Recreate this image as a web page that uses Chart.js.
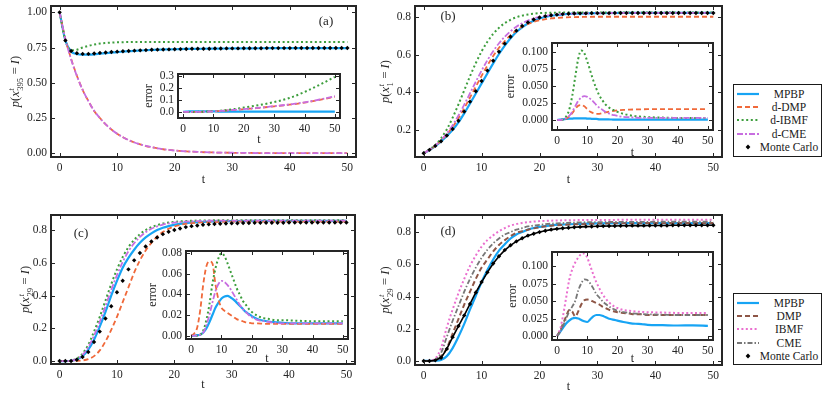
<!DOCTYPE html>
<html>
<head>
<meta charset="utf-8">
<script src="https://cdn.jsdelivr.net/npm/chart.js@4.4.0/dist/chart.umd.min.js"></script>
<style>
  body { margin: 0; width: 830px; height: 399px; overflow: hidden; background: #fff; position: relative; }
  canvas { position: absolute; }
  .leg { position: absolute; box-sizing: border-box; border: 1.5px solid #1a1a1a; background: #fff;
         padding: 2px 2px 0 3px; font: 11.5px 'Liberation Serif', serif; color: #1a1a1a; }
  .leg .row { height: 13.4px; display: flex; align-items: center; }
  .leg .row span { flex: 1; text-align: center; white-space: nowrap; }
</style>
</head>
<body>
<script>
// ---- data ----
// curve time grid and Monte Carlo time grid
const T = [0,1,2,3,4,5,6,7,8,9,10,11,12,13,14,15,16,17,18,19,20,22,24,26,28,30,35,40,45,50];
const T_MC = Array.from({length: 51}, (_, i) => i);
const X_TICKS = [0, 10, 20, 30, 40, 50];

// (a)
const MPBP_A = [1.0,0.80,0.722,0.704,0.700,0.700,0.702,0.706,0.710,0.714,0.718, 0.721,0.724,0.727,0.729,0.731,0.733,0.735,0.736,0.737,0.738, 0.740,0.741,0.742,0.743,0.744,0.745,0.746,0.746,0.746];
const DMP_A = [1.0,0.81,0.67,0.55,0.45,0.37,0.30,0.25,0.205,0.168,0.138, 0.113,0.093,0.076,0.063,0.051,0.042,0.035,0.028,0.023,0.019, 0.013,0.009,0.006,0.004,0.003,0.001,0.0005,0.0002,0.0001];
const IBMF_A = [1.0,0.80,0.73,0.735,0.75,0.762,0.771,0.778,0.782,0.785,0.787, 0.788,0.789,0.79,0.79,0.79,0.79,0.79,0.79,0.79,0.79, 0.79,0.79,0.79,0.79,0.79,0.79,0.79,0.79,0.79];
const CME_A = [1.0,0.81,0.665,0.548,0.449,0.369,0.301,0.249,0.204,0.168,0.138, 0.113,0.093,0.076,0.063,0.052,0.043,0.035,0.029,0.024,0.019, 0.013,0.009,0.006,0.004,0.003,0.001,0.0005,0.0002,0.0001];
const MC_A = [1.0,0.80,0.726,0.710,0.705,0.705,0.708,0.712,0.715,0.718, 0.721,0.724,0.726,0.728,0.730,0.732,0.734,0.735,0.736,0.737, 0.738,0.739,0.740,0.741,0.741,0.742,0.742,0.743,0.743,0.744, 0.744,0.744,0.745,0.745,0.745,0.745,0.746,0.746,0.746,0.746, 0.746,0.747,0.747,0.747,0.747,0.747,0.747,0.747,0.747,0.747, 0.747];
const ERR_MPBP_A = [0,0.002,0.004,0.005,0.005,0.005,0.005,0.005,0.004,0.004,0.004, 0.004,0.003,0.003,0.003,0.003,0.003,0.003,0.003,0.003,0.003, 0.003,0.003,0.003,0.003,0.003,0.003,0.003,0.003,0.003];
const ERR_DMP_A = [0,0,0,0,0,0.001,0.001,0.002,0.003,0.004,0.005, 0.006,0.008,0.009,0.011,0.013,0.015,0.017,0.019,0.021,0.023, 0.027,0.031,0.036,0.041,0.046,0.060,0.077,0.100,0.126];
const ERR_IBMF_A = [0,0,0,0,0,0.001,0.002,0.003,0.004,0.005,0.006, 0.008,0.010,0.012,0.015,0.018,0.021,0.024,0.028,0.032,0.036, 0.044,0.052,0.061,0.071,0.082,0.115,0.165,0.225,0.29];
const ERR_CME_A = [0,0,0,0,0,0.001,0.001,0.002,0.003,0.004,0.005, 0.007,0.008,0.010,0.012,0.014,0.016,0.018,0.020,0.022,0.024, 0.028,0.032,0.037,0.042,0.048,0.062,0.080,0.103,0.130];

// (b)
const MPBP_B = [0.076,0.093,0.114,0.139,0.168,0.200,0.240,0.288,0.340,0.393,0.447, 0.500,0.553,0.603,0.648,0.687,0.720,0.745,0.765,0.780,0.792, 0.806,0.813,0.817,0.819,0.820,0.821,0.821,0.821,0.821];
const DMP_B = [0.076,0.094,0.116,0.143,0.176,0.216,0.262,0.315,0.372,0.430,0.487, 0.542,0.592,0.636,0.672,0.703,0.728,0.748,0.763,0.774,0.782, 0.792,0.797,0.799,0.800,0.801,0.801,0.801,0.801,0.801];
const IBMF_B = [0.076,0.095,0.120,0.155,0.203,0.265,0.335,0.410,0.485,0.555,0.617, 0.668,0.710,0.742,0.767,0.785,0.798,0.807,0.813,0.817,0.820, 0.822,0.823,0.823,0.823,0.823,0.823,0.823,0.823,0.823];
const CME_B = [0.076,0.094,0.117,0.146,0.182,0.225,0.277,0.334,0.395,0.456,0.515, 0.570,0.618,0.660,0.695,0.724,0.748,0.766,0.781,0.792,0.800, 0.810,0.815,0.818,0.819,0.820,0.821,0.821,0.821,0.821];
const MC_B = [0.076,0.094,0.115,0.140,0.170,0.205,0.248,0.297,0.350,0.405, 0.460,0.515,0.567,0.615,0.658,0.695,0.727,0.752,0.771,0.786, 0.797,0.804,0.809,0.812,0.815,0.817,0.818,0.819,0.819,0.820, 0.820,0.820,0.820,0.821,0.821,0.821,0.821,0.821,0.821,0.821, 0.821,0.821,0.821,0.821,0.821,0.821,0.821,0.821,0.821,0.821, 0.821];
const ERR_MPBP_B = [0,0.0005,0.001,0.0015,0.002,0.002,0.0025,0.0025,0.0025,0.0025,0.002, 0.002,0.0015,0.0015,0.001,0.001,0.001,0.0008,0.0007,0.0006,0.0005, 0.0005,0.0004,0.0004,0.0004,0.0004,0.0004,0.0004,0.0004,0.0004];
const ERR_DMP_B = [0,0,0.001,0.002,0.005,0.010,0.016,0.021,0.022,0.020,0.016, 0.012,0.010,0.009,0.009,0.010,0.011,0.012,0.013,0.0135,0.014, 0.0148,0.0152,0.0155,0.0157,0.0158,0.016,0.016,0.016,0.016];
const ERR_IBMF_B = [0,0,0.001,0.005,0.015,0.035,0.063,0.090,0.102,0.098,0.086, 0.072,0.058,0.046,0.036,0.029,0.023,0.019,0.016,0.014,0.012, 0.009,0.007,0.0055,0.0048,0.0042,0.0035,0.003,0.003,0.003];
const ERR_CME_B = [0,0,0.001,0.003,0.006,0.012,0.020,0.028,0.033,0.035,0.034, 0.031,0.027,0.022,0.018,0.015,0.012,0.010,0.008,0.007,0.006, 0.0045,0.004,0.0035,0.003,0.003,0.003,0.003,0.003,0.003];

// (c)
const MPBP_C = [0,0,0.002,0.01,0.03,0.07,0.13,0.21,0.30,0.40,0.49, 0.57,0.63,0.68,0.722,0.755,0.78,0.80,0.814,0.824,0.832, 0.842,0.848,0.852,0.854,0.855,0.856,0.856,0.856,0.856];
const DMP_C = [0,0,0,0.001,0.004,0.012,0.03,0.065,0.12,0.19,0.27, 0.36,0.45,0.54,0.615,0.675,0.722,0.76,0.788,0.808,0.822, 0.838,0.845,0.848,0.85,0.851,0.852,0.852,0.852,0.852];
const IBMF_C = [0,0,0.003,0.015,0.045,0.10,0.18,0.27,0.37,0.47,0.56, 0.635,0.695,0.74,0.775,0.80,0.818,0.83,0.84,0.846,0.85, 0.855,0.858,0.859,0.86,0.86,0.86,0.86,0.86,0.86];
const CME_C = [0,0,0.002,0.012,0.037,0.085,0.155,0.24,0.335,0.435,0.525, 0.605,0.67,0.72,0.758,0.787,0.808,0.822,0.833,0.841,0.846, 0.852,0.855,0.857,0.858,0.858,0.858,0.858,0.858,0.858];
const MC_C = [0,0,0,0.008,0.025,0.055,0.116,0.18,0.26,0.335, 0.42,0.49,0.56,0.615,0.66,0.70,0.73,0.755,0.775,0.79, 0.80,0.81,0.818,0.824,0.828,0.832,0.835,0.837,0.839,0.840, 0.841,0.842,0.843,0.843,0.844,0.844,0.845,0.845,0.845,0.845, 0.846,0.846,0.846,0.846,0.846,0.846,0.846,0.846,0.846,0.846, 0.846];
const ERR_MPBP_C = [0,0,0.0005,0.001,0.003,0.007,0.013,0.020,0.027,0.032,0.036, 0.038,0.0385,0.037,0.035,0.032,0.029,0.026,0.023,0.021,0.019, 0.016,0.0145,0.0135,0.013,0.0125,0.012,0.012,0.012,0.012];
const ERR_DMP_C = [0,0.002,0.008,0.025,0.05,0.067,0.072,0.070,0.050,0.035,0.027, 0.024,0.022,0.020,0.018,0.016,0.015,0.014,0.013,0.0125,0.012, 0.012,0.0115,0.0115,0.0115,0.0115,0.0115,0.0115,0.0115,0.0115];
const ERR_IBMF_C = [0,0,0,0.001,0.005,0.015,0.030,0.050,0.065,0.075,0.080, 0.077,0.070,0.062,0.054,0.046,0.040,0.034,0.030,0.026,0.023, 0.019,0.017,0.016,0.015,0.015,0.0145,0.014,0.014,0.014];
const ERR_CME_C = [0,0,0,0.001,0.003,0.010,0.020,0.032,0.043,0.050,0.053, 0.052,0.049,0.045,0.040,0.035,0.030,0.026,0.023,0.020,0.018, 0.015,0.014,0.013,0.0125,0.012,0.012,0.012,0.012,0.012];

// (d)
const MPBP_D = [0,0,0.001,0.006,0.03,0.08,0.15,0.23,0.32,0.405,0.49, 0.565,0.63,0.685,0.725,0.76,0.785,0.80,0.815,0.825,0.832, 0.842,0.847,0.85,0.852,0.854,0.855,0.855,0.855,0.855];
const DMP_D = [0,0,0.005,0.03,0.08,0.17,0.26,0.35,0.43,0.51,0.58, 0.63,0.68,0.72,0.75,0.775,0.795,0.805,0.815,0.823,0.83, 0.84,0.845,0.848,0.85,0.853,0.855,0.856,0.857,0.857];
const IBMF_D = [0,0.002,0.015,0.08,0.21,0.32,0.42,0.51,0.59,0.655,0.71, 0.75,0.78,0.805,0.825,0.84,0.85,0.857,0.862,0.865,0.868, 0.871,0.873,0.874,0.875,0.875,0.876,0.876,0.876,0.876];
const CME_D = [0,0.001,0.008,0.05,0.15,0.25,0.34,0.43,0.51,0.58,0.64, 0.69,0.73,0.76,0.785,0.80,0.815,0.825,0.835,0.84,0.845, 0.852,0.856,0.859,0.861,0.862,0.863,0.864,0.864,0.864];
const MC_D = [0,0,0.004,0.02,0.075,0.148,0.217,0.283,0.354,0.425, 0.49,0.55,0.605,0.65,0.688,0.718,0.742,0.762,0.778,0.79, 0.80,0.808,0.815,0.82,0.824,0.827,0.83,0.832,0.834,0.835, 0.836,0.837,0.838,0.838,0.839,0.839,0.84,0.84,0.84,0.841, 0.841,0.841,0.841,0.842,0.842,0.842,0.842,0.842,0.842,0.842, 0.842];
const ERR_MPBP_D = [0,0.006,0.012,0.018,0.022,0.025,0.026,0.025,0.023,0.021,0.020, 0.024,0.028,0.030,0.030,0.029,0.027,0.025,0.024,0.023,0.022, 0.020,0.0185,0.0175,0.017,0.016,0.0155,0.015,0.0152,0.0145];
const ERR_DMP_D = [0,0.008,0.018,0.028,0.037,0.035,0.028,0.035,0.045,0.051,0.052, 0.051,0.049,0.047,0.045,0.042,0.040,0.038,0.036,0.035,0.034, 0.033,0.032,0.031,0.031,0.030,0.030,0.030,0.030,0.030];
const ERR_IBMF_D = [0,0.010,0.030,0.055,0.080,0.095,0.105,0.112,0.117,0.118,0.112, 0.100,0.088,0.077,0.068,0.060,0.054,0.049,0.045,0.042,0.040, 0.037,0.036,0.035,0.0345,0.034,0.0335,0.033,0.033,0.033];
const ERR_CME_D = [0,0.006,0.015,0.025,0.035,0.042,0.050,0.065,0.075,0.081,0.080, 0.075,0.068,0.060,0.055,0.050,0.046,0.043,0.040,0.038,0.036, 0.034,0.033,0.032,0.0315,0.031,0.0305,0.030,0.030,0.030];

const LEGEND_B = ['MPBP', 'd-DMP', 'd-IBMF', 'd-CME', 'Monte Carlo'];
const LEGEND_D = ['MPBP', 'DMP', 'IBMF', 'CME', 'Monte Carlo'];

// ---- styles ----
const FONT = "'Liberation Serif', 'Times New Roman', serif";
const INK = '#262626';
const PAD = 14, YW = 44, XH = 30;

const STY = {
    mpbp:  {color: '#17a4f4', dash: [], width: 2.2},
    dmp:   {color: '#f0693a', dash: [5, 3], width: 1.8},
    ibmf:  {color: '#3d9e3d', dash: [2, 2.6], width: 2},
    cme:   {color: '#c86ee0', dash: [6, 2, 2, 2], width: 1.8},
    dmpD:  {color: '#8e5646', dash: [5, 3], width: 2},
    ibmfD: {color: '#ea6fcf', dash: [2, 2.4], width: 2},
    cmeD:  {color: '#777777', dash: [5, 2, 1.5, 2], width: 1.8},
};

const line = (ys, s, order) => ({
    data: ys.map((y, i) => ({x: T[i], y: y})),
    borderColor: s.color, borderDash: s.dash, borderWidth: s.width,
    pointRadius: 0, fill: false, cubicInterpolationMode: 'monotone', order: order
});

const dots = (ys, joined) => ({
    data: ys.map((y, i) => ({x: T_MC[i], y: y})),
    showLine: !!joined, borderColor: '#000', borderWidth: joined ? 1.6 : 0,
    pointStyle: 'rectRot', pointRadius: 2.2, pointBorderWidth: 0,
    backgroundColor: '#000', order: 0
});

// rotated y label, with a stacked sup/sub for the main panels
const drawYLabel = (ctx, node, cx, cy) => {
    ctx.save();
    ctx.translate(cx, cy);
    ctx.rotate(-Math.PI / 2);
    ctx.textAlign = 'left';
    ctx.textBaseline = 'alphabetic';
    ctx.fillStyle = INK;
    if (!node) {
        ctx.font = `12px ${FONT}`;
        const w = ctx.measureText('error').width;
        ctx.fillText('error', -w / 2, 4);
        ctx.restore();
        return;
    }
    const segs = [['p', 'italic'], ['(', ''], ['x', 'italic'], null, [' = ', ''], ['I', 'italic'], [')', '']];
    const small = `8.5px ${FONT}`;
    const widths = segs.map(s => {
        if (!s) {
            ctx.font = 'italic ' + small;
            const a = ctx.measureText('t').width;
            ctx.font = small;
            return Math.max(a, ctx.measureText(node).width) + 1;
        }
        ctx.font = `${s[1]} 12.5px ${FONT}`;
        return ctx.measureText(s[0]).width;
    });
    let x = -widths.reduce((a, b) => a + b, 0) / 2;
    segs.forEach((s, i) => {
        if (!s) {
            ctx.font = 'italic ' + small;
            ctx.fillText('t', x + 0.5, -1.5);
            ctx.font = small;
            ctx.fillText(node, x + 0.5, 7.5);
        } else {
            ctx.font = `${s[1]} 12.5px ${FONT}`;
            ctx.fillText(s[0], x, 4);
        }
        x += widths[i];
    });
    ctx.restore();
};

const framePlugin = (o) => ({
    id: 'frame',
    beforeDraw(chart) {
        if (!o.white) return;
        const {ctx, chartArea: c} = chart;
        ctx.save();
        ctx.fillStyle = '#fff';
        ctx.fillRect(c.left, c.top, c.right - c.left, c.bottom - c.top);
        ctx.restore();
    },
    afterDraw(chart) {
        const {ctx, chartArea: c, scales} = chart;
        const x = scales.x, y = scales.y;
        ctx.save();
        ctx.strokeStyle = INK;
        ctx.lineWidth = 1;
        ctx.beginPath();
        x.ticks.forEach(t => {
            const px = Math.round(x.getPixelForValue(t.value)) + 0.5;
            ctx.moveTo(px, c.bottom); ctx.lineTo(px, c.bottom - 4);
            ctx.moveTo(px, c.top); ctx.lineTo(px, c.top + 4);
        });
        y.ticks.forEach(t => {
            const py = Math.round(y.getPixelForValue(t.value)) + 0.5;
            ctx.moveTo(c.left, py); ctx.lineTo(c.left + 4, py);
            ctx.moveTo(c.right, py); ctx.lineTo(c.right - 4, py);
        });
        ctx.stroke();
        ctx.lineWidth = 2;
        ctx.strokeRect(c.left, c.top, c.right - c.left, c.bottom - c.top);
        ctx.fillStyle = INK;
        ctx.textAlign = 'center';
        ctx.textBaseline = 'middle';
        ctx.font = `12px ${FONT}`;
        ctx.fillText('t', (c.left + c.right) / 2, c.bottom + o.tdy);
        drawYLabel(ctx, o.node, c.left - o.ydx, (c.top + c.bottom) / 2);
        if (o.tag) {
            ctx.font = `13px ${FONT}`;
            ctx.fillText(o.tag[0], c.left + o.tag[1], c.top + o.tag[2]);
        }
        ctx.restore();
    }
});

const panel = (box, datasets, o) => {
    const w = box.R - box.L + YW + 2 * PAD;
    const h = box.B - box.T + XH + 2 * PAD;
    const cv = document.createElement('canvas');
    cv.width = w; cv.height = h;
    cv.style.width = w + 'px'; cv.style.height = h + 'px';
    cv.style.left = (box.L - YW - PAD) + 'px';
    cv.style.top = (box.T - PAD) + 'px';
    document.body.appendChild(cv);
    const tickFont = {family: FONT, size: 11.5};
    new Chart(cv, {
        type: 'line',
        data: {datasets: datasets},
        options: {
            responsive: false, animation: false, events: [],
            layout: {padding: PAD},
            plugins: {legend: {display: false}, tooltip: {enabled: false}},
            scales: {
                x: {
                    type: 'linear', min: o.xr[0], max: o.xr[1], bounds: 'data',
                    afterBuildTicks: s => { s.ticks = X_TICKS.map(v => ({value: v})); },
                    afterFit: s => { s.height = XH; },
                    grid: {display: false, drawTicks: false}, border: {display: false},
                    ticks: {padding: 4, color: INK, font: tickFont, autoSkip: false, maxRotation: 0,
                            callback: v => String(v)}
                },
                y: {
                    type: 'linear', min: o.yr[0], max: o.yr[1], bounds: 'data',
                    afterBuildTicks: s => { s.ticks = o.yt.map(v => ({value: v})); },
                    afterFit: s => { s.width = YW; },
                    grid: {display: false, drawTicks: false}, border: {display: false},
                    ticks: {padding: 4, color: INK, font: tickFont, autoSkip: false,
                            callback: v => v.toFixed(o.yd)}
                }
            }
        },
        plugins: [framePlugin(o)]
    });
};

const legend = (left, top, w, h, labels, styles) => {
    const d = document.createElement('div');
    d.className = 'leg';
    Object.assign(d.style, {left: left + 'px', top: top + 'px', width: w + 'px', height: h + 'px'});
    labels.forEach((lab, i) => {
        const s = styles[i];
        const mark = s
            ? `<line x1="0" y1="4" x2="22" y2="4" stroke="${s.color}" stroke-width="${s.width}" stroke-dasharray="${s.dash.join(' ') || 'none'}"/>`
            : `<polygon points="11,1.6 13.4,4 11,6.4 8.6,4" fill="#000"/>`;
        const row = document.createElement('div');
        row.className = 'row';
        row.innerHTML = `<svg width="22" height="8">${mark}</svg><span>${lab}</span>`;
        d.appendChild(row);
    });
    document.body.appendChild(d);
};

// ---- main panels ----
const XR = [-1.5, 51.5];
panel({L: 51, T: 6, R: 356, B: 157}, [
    dots(MC_A), line(CME_A, STY.cme, 1), line(IBMF_A, STY.ibmf, 2), line(DMP_A, STY.dmp, 3), line(MPBP_A, STY.mpbp, 4)
], {xr: XR, yr: [-0.027, 1.045], yt: [0, 0.25, 0.5, 0.75, 1.0], yd: 2, tdy: 23, ydx: 36, node: '395', tag: ['(a)', 275, 16]});

panel({L: 415, T: 6, R: 722, B: 157}, [
    dots(MC_B), line(CME_B, STY.cme, 1), line(IBMF_B, STY.ibmf, 2), line(DMP_B, STY.dmp, 3), line(MPBP_B, STY.mpbp, 4)
], {xr: XR, yr: [0.056, 0.858], yt: [0.2, 0.4, 0.6, 0.8], yd: 1, tdy: 23, ydx: 30, node: '1', tag: ['(b)', 33, 11]});

panel({L: 51, T: 215, R: 355, B: 364}, [
    dots(MC_C), line(CME_C, STY.cme, 1), line(IBMF_C, STY.ibmf, 2), line(DMP_C, STY.dmp, 3), line(MPBP_C, STY.mpbp, 4)
], {xr: XR, yr: [-0.018, 0.892], yt: [0, 0.2, 0.4, 0.6, 0.8], yd: 1, tdy: 21, ydx: 26, node: '29', tag: ['(c)', 30, 19]});

panel({L: 415, T: 215, R: 722, B: 365}, [
    dots(MC_D, true), line(CME_D, STY.cmeD, 1), line(IBMF_D, STY.ibmfD, 2), line(DMP_D, STY.dmpD, 3), line(MPBP_D, STY.mpbp, 4)
], {xr: XR, yr: [-0.025, 0.906], yt: [0, 0.2, 0.4, 0.6, 0.8], yd: 1, tdy: 22, ydx: 30, node: '29', tag: ['(d)', 33, 17]});

// ---- insets ----
const XRI = [-1.7, 51.7];
panel({L: 178, T: 74, R: 340, B: 118}, [
    line(ERR_CME_A, STY.cme, 1), line(ERR_IBMF_A, STY.ibmf, 2), line(ERR_DMP_A, STY.dmp, 3), line(ERR_MPBP_A, STY.mpbp, 4)
], {white: true, xr: XRI, yr: [-0.05, 0.314], yt: [0, 0.1, 0.2, 0.3], yd: 1, tdy: 22, ydx: 30});

panel({L: 552, T: 43, R: 713, B: 130}, [
    line(ERR_CME_B, STY.cme, 1), line(ERR_IBMF_B, STY.ibmf, 2), line(ERR_DMP_B, STY.dmp, 3), line(ERR_MPBP_B, STY.mpbp, 4)
], {white: true, xr: XRI, yr: [-0.0147, 0.113], yt: [0, 0.025, 0.05, 0.075, 0.1], yd: 3, tdy: 23, ydx: 42});

panel({L: 186, T: 251, R: 348, B: 339}, [
    line(ERR_CME_C, STY.cme, 1), line(ERR_IBMF_C, STY.ibmf, 2), line(ERR_DMP_C, STY.dmp, 3), line(ERR_MPBP_C, STY.mpbp, 4)
], {white: true, xr: XRI, yr: [-0.0032, 0.082], yt: [0, 0.02, 0.04, 0.06, 0.08], yd: 2, tdy: 20, ydx: 34});

panel({L: 552, T: 252, R: 713, B: 340}, [
    line(ERR_CME_D, STY.cmeD, 1), line(ERR_IBMF_D, STY.ibmfD, 2), line(ERR_DMP_D, STY.dmpD, 3), line(ERR_MPBP_D, STY.mpbp, 4)
], {white: true, xr: XRI, yr: [-0.0057, 0.12], yt: [0, 0.025, 0.05, 0.075, 0.1], yd: 3, tdy: 19, ydx: 40});

// ---- legends ----
legend(733, 84, 89, 73, LEGEND_B, [STY.mpbp, STY.dmp, STY.ibmf, STY.cme, null]);
legend(733, 293, 89, 72, LEGEND_D, [STY.mpbp, STY.dmpD, STY.ibmfD, STY.cmeD, null]);
</script>
</body>
</html>
